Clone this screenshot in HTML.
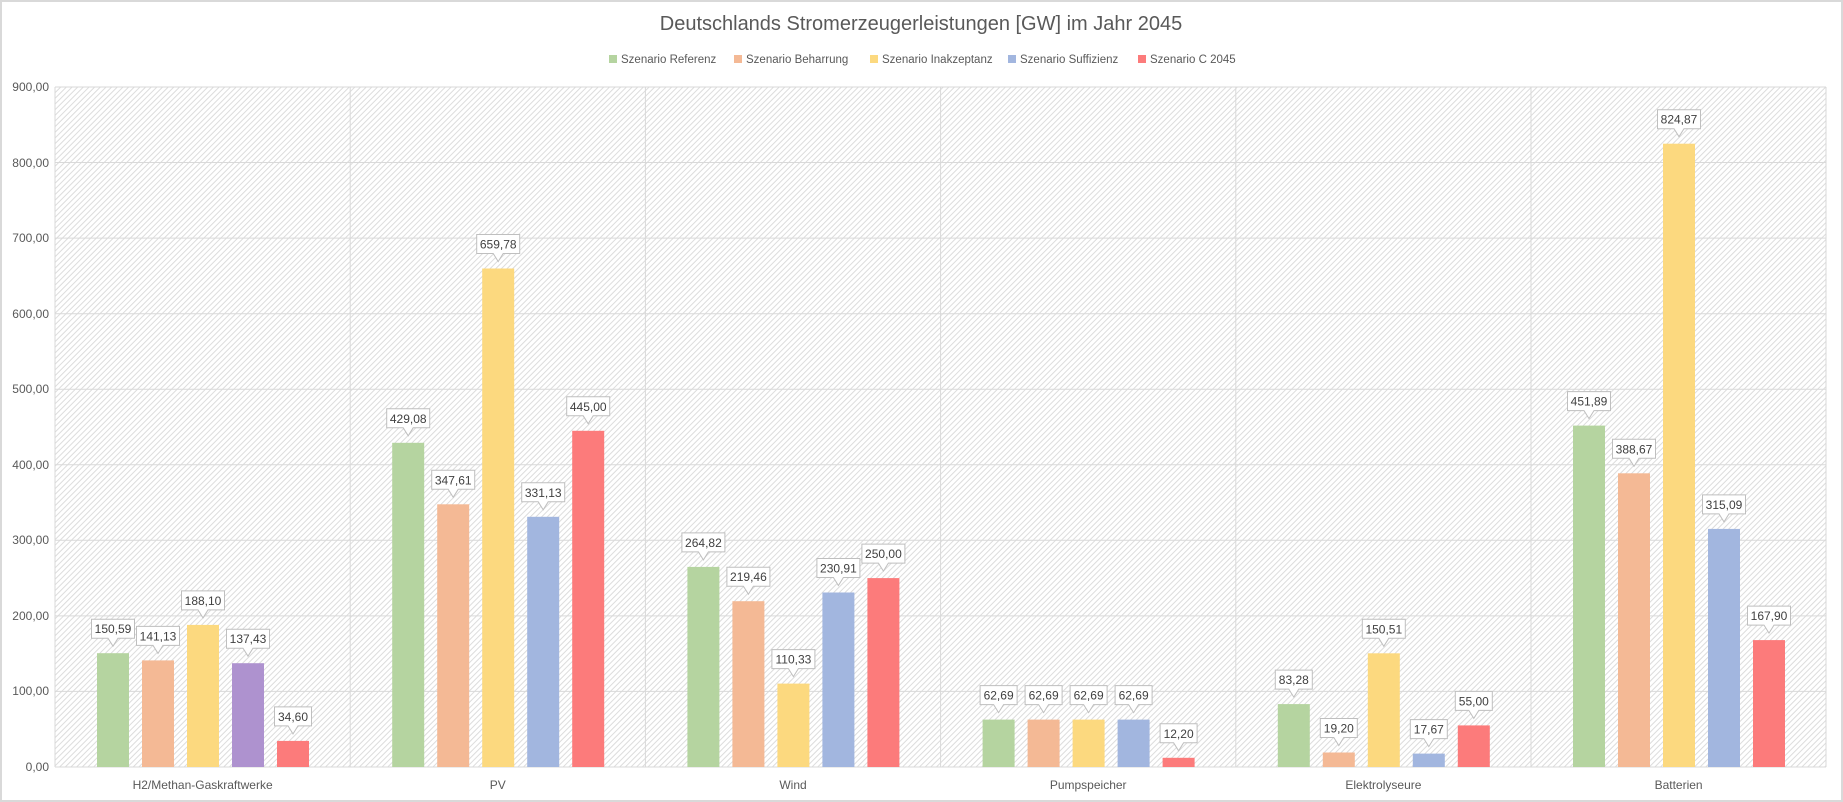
<!DOCTYPE html>
<html><head><meta charset="utf-8"><style>
html,body{margin:0;padding:0;background:#fff;}
svg{display:block;font-family:"Liberation Sans",sans-serif;}
</style></head><body>
<svg width="1843" height="802" viewBox="0 0 1843 802" xmlns="http://www.w3.org/2000/svg">
<defs>
<pattern id="h" width="4" height="4" patternUnits="userSpaceOnUse" patternTransform="rotate(45)">
<rect width="4" height="4" fill="#ffffff"/><rect width="1" height="4" fill="#dcdcdc"/>
</pattern>
<pattern id="hb" width="4" height="4" patternUnits="userSpaceOnUse" patternTransform="rotate(45)">
<rect width="1" height="4" fill="#000" fill-opacity="0.06"/>
</pattern>
<path id="c6" d="M-21.5,-34H21.5V-15H5L0,-7L-5,-15H-21.5Z" fill="#fff" stroke="#bfbfbf" stroke-width="1"/>
<path id="c5" d="M-18.5,-34H18.5V-15H5L0,-7L-5,-15H-18.5Z" fill="#fff" stroke="#bfbfbf" stroke-width="1"/>
</defs>
<rect x="1" y="1" width="1841" height="800" fill="#fff" stroke="#d9d9d9" stroke-width="2"/>
<text x="921" y="30" text-anchor="middle" font-size="20" fill="#595959">Deutschlands  Stromerzeugerleistungen  [GW] im Jahr 2045</text>
<g font-size="11.5" fill="#595959">
<rect x="609" y="55" width="8" height="8" fill="#b5d4a0"/><text x="621" y="63">Szenario Referenz</text>
<rect x="734" y="55" width="8" height="8" fill="#f4b995"/><text x="746" y="63">Szenario Beharrung</text>
<rect x="870" y="55" width="8" height="8" fill="#fcd97f"/><text x="882" y="63">Szenario Inakzeptanz</text>
<rect x="1008" y="55" width="8" height="8" fill="#a2b6df"/><text x="1020" y="63">Szenario Suffizienz</text>
<rect x="1138" y="55" width="8" height="8" fill="#fc7b7b"/><text x="1150" y="63">Szenario C 2045</text>
</g>
<rect x="55" y="87" width="1771" height="680" fill="url(#h)"/>
<g stroke="#d9d9d9" stroke-width="1">
<line x1="55" x2="1826" y1="87" y2="87"/><line x1="55" x2="1826" y1="162.5" y2="162.5"/>
<line x1="55" x2="1826" y1="238.1" y2="238.1"/><line x1="55" x2="1826" y1="313.7" y2="313.7"/>
<line x1="55" x2="1826" y1="389.2" y2="389.2"/><line x1="55" x2="1826" y1="464.8" y2="464.8"/>
<line x1="55" x2="1826" y1="540.3" y2="540.3"/><line x1="55" x2="1826" y1="615.9" y2="615.9"/>
<line x1="55" x2="1826" y1="691.4" y2="691.4"/><line x1="55" x2="1826" y1="767" y2="767"/>
<line x1="55" x2="55" y1="87" y2="767"/><line x1="350.2" x2="350.2" y1="87" y2="767"/>
<line x1="645.4" x2="645.4" y1="87" y2="767"/><line x1="940.6" x2="940.6" y1="87" y2="767"/>
<line x1="1235.8" x2="1235.8" y1="87" y2="767"/><line x1="1531" x2="1531" y1="87" y2="767"/>
<line x1="1826" x2="1826" y1="87" y2="767"/>
</g>
<g font-size="12" fill="#595959" text-anchor="end">
<text x="49" y="91">900,00</text><text x="49" y="167">800,00</text><text x="49" y="242">700,00</text>
<text x="49" y="318">600,00</text><text x="49" y="393">500,00</text><text x="49" y="469">400,00</text>
<text x="49" y="544">300,00</text><text x="49" y="620">200,00</text><text x="49" y="695">100,00</text>
<text x="49" y="771">0,00</text>
</g>
<g font-size="12" fill="#595959" text-anchor="middle">
<text x="202.6" y="789">H2/Methan-Gaskraftwerke</text><text x="497.8" y="789">PV</text>
<text x="793" y="789">Wind</text><text x="1088.2" y="789">Pumpspeicher</text>
<text x="1383.4" y="789">Elektrolyseure</text><text x="1678.6" y="789">Batterien</text>
</g>
<!-- bars -->
<g>
<rect x="97" y="653.2" width="32" height="113.8" fill="#b5d4a0"/>
<rect x="142" y="660.4" width="32" height="106.6" fill="#f4b995"/>
<rect x="187" y="624.9" width="32" height="142.1" fill="#fcd97f"/>
<rect x="232" y="663.2" width="32" height="103.8" fill="#ae92cf"/>
<rect x="277" y="740.9" width="32" height="26.1" fill="#fc7b7b"/>

<rect x="392.2" y="442.8" width="32" height="324.2" fill="#b5d4a0"/>
<rect x="437.2" y="504.3" width="32" height="262.7" fill="#f4b995"/>
<rect x="482.2" y="268.5" width="32" height="498.5" fill="#fcd97f"/>
<rect x="527.2" y="516.8" width="32" height="250.2" fill="#a2b6df"/>
<rect x="572.2" y="430.8" width="32" height="336.2" fill="#fc7b7b"/>

<rect x="687.4" y="566.9" width="32" height="200.1" fill="#b5d4a0"/>
<rect x="732.4" y="601.2" width="32" height="165.8" fill="#f4b995"/>
<rect x="777.4" y="683.6" width="32" height="83.4" fill="#fcd97f"/>
<rect x="822.4" y="592.5" width="32" height="174.5" fill="#a2b6df"/>
<rect x="867.4" y="578.1" width="32" height="188.9" fill="#fc7b7b"/>

<rect x="982.6" y="719.6" width="32" height="47.4" fill="#b5d4a0"/>
<rect x="1027.6" y="719.6" width="32" height="47.4" fill="#f4b995"/>
<rect x="1072.6" y="719.6" width="32" height="47.4" fill="#fcd97f"/>
<rect x="1117.6" y="719.6" width="32" height="47.4" fill="#a2b6df"/>
<rect x="1162.6" y="757.8" width="32" height="9.2" fill="#fc7b7b"/>

<rect x="1277.8" y="704.1" width="32" height="62.9" fill="#b5d4a0"/>
<rect x="1322.8" y="752.5" width="32" height="14.5" fill="#f4b995"/>
<rect x="1367.8" y="653.3" width="32" height="113.7" fill="#fcd97f"/>
<rect x="1412.8" y="753.6" width="32" height="13.4" fill="#a2b6df"/>
<rect x="1457.8" y="725.4" width="32" height="41.6" fill="#fc7b7b"/>

<rect x="1573" y="425.6" width="32" height="341.4" fill="#b5d4a0"/>
<rect x="1618" y="473.3" width="32" height="293.7" fill="#f4b995"/>
<rect x="1663" y="143.7" width="32" height="623.3" fill="#fcd97f"/>
<rect x="1708" y="528.9" width="32" height="238.1" fill="#a2b6df"/>
<rect x="1753" y="640.1" width="32" height="126.9" fill="#fc7b7b"/>
</g>
<!-- labels -->
<g font-size="12" fill="#404040" text-anchor="middle">
<g transform="translate(113,653.2)"><use href="#c6"/><text y="-20">150,59</text></g>
<g transform="translate(158,660.4)"><use href="#c6"/><text y="-20">141,13</text></g>
<g transform="translate(203,624.9)"><use href="#c6"/><text y="-20">188,10</text></g>
<g transform="translate(248,663.2)"><use href="#c6"/><text y="-20">137,43</text></g>
<g transform="translate(293,740.9)"><use href="#c5"/><text y="-20">34,60</text></g>

<g transform="translate(408.2,442.8)"><use href="#c6"/><text y="-20">429,08</text></g>
<g transform="translate(453.2,504.3)"><use href="#c6"/><text y="-20">347,61</text></g>
<g transform="translate(498.2,268.5)"><use href="#c6"/><text y="-20">659,78</text></g>
<g transform="translate(543.2,516.8)"><use href="#c6"/><text y="-20">331,13</text></g>
<g transform="translate(588.2,430.8)"><use href="#c6"/><text y="-20">445,00</text></g>

<g transform="translate(703.4,566.9)"><use href="#c6"/><text y="-20">264,82</text></g>
<g transform="translate(748.4,601.2)"><use href="#c6"/><text y="-20">219,46</text></g>
<g transform="translate(793.4,683.6)"><use href="#c6"/><text y="-20">110,33</text></g>
<g transform="translate(838.4,592.5)"><use href="#c6"/><text y="-20">230,91</text></g>
<g transform="translate(883.4,578.1)"><use href="#c6"/><text y="-20">250,00</text></g>

<g transform="translate(998.6,719.6)"><use href="#c5"/><text y="-20">62,69</text></g>
<g transform="translate(1043.6,719.6)"><use href="#c5"/><text y="-20">62,69</text></g>
<g transform="translate(1088.6,719.6)"><use href="#c5"/><text y="-20">62,69</text></g>
<g transform="translate(1133.6,719.6)"><use href="#c5"/><text y="-20">62,69</text></g>
<g transform="translate(1178.6,757.8)"><use href="#c5"/><text y="-20">12,20</text></g>

<g transform="translate(1293.8,704.1)"><use href="#c5"/><text y="-20">83,28</text></g>
<g transform="translate(1338.8,752.5)"><use href="#c5"/><text y="-20">19,20</text></g>
<g transform="translate(1383.8,653.3)"><use href="#c6"/><text y="-20">150,51</text></g>
<g transform="translate(1428.8,753.6)"><use href="#c5"/><text y="-20">17,67</text></g>
<g transform="translate(1473.8,725.4)"><use href="#c5"/><text y="-20">55,00</text></g>

<g transform="translate(1589,425.6)"><use href="#c6"/><text y="-20">451,89</text></g>
<g transform="translate(1634,473.3)"><use href="#c6"/><text y="-20">388,67</text></g>
<g transform="translate(1679,143.7)"><use href="#c6"/><text y="-20">824,87</text></g>
<g transform="translate(1724,528.9)"><use href="#c6"/><text y="-20">315,09</text></g>
<g transform="translate(1769,640.1)"><use href="#c6"/><text y="-20">167,90</text></g>
</g>
</svg>
</body></html>
